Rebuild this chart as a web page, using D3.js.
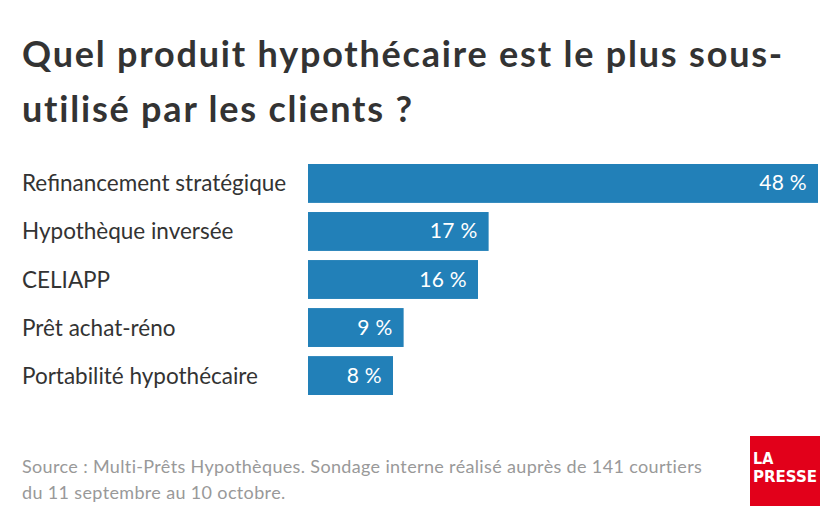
<!DOCTYPE html>
<html><head><meta charset="utf-8">
<script src="https://cdn.jsdelivr.net/npm/d3@7"></script>
<style>body{margin:0;background:#fff}svg{display:block}</style>
</head><body>
<script>
const categories = ["Refinancement stratégique","Hypothèque inversée","CELIAPP","Prêt achat-réno","Portabilité hypothécaire"];
const values = [48,17,16,9,8];
const titleLines = ["Quel produit hypothécaire est le plus sous-","utilisé par les clients ?"];
const sourceLines = ["Source : Multi-Prêts Hypothèques. Sondage interne réalisé auprès de 141 courtiers","du 11 septembre au 10 octobre."];

const W=840,H=526;
const svg=d3.select("body").append("svg").attr("width",W).attr("height",H);
const font="Lato, 'Open Sans', sans-serif";

svg.selectAll("text.title").data(titleLines).join("text")
  .attr("class","title")
  .attr("x",22).attr("y",(d,i)=>67+i*55)
  .attr("font-family",font).attr("font-weight",700).attr("font-size",36)
  .attr("letter-spacing",1.8)
  .attr("fill","#333").text(d=>d);

const x=d3.scaleLinear().domain([0,48]).range([308,818]);
const y=d3.scaleBand().domain(categories).range([164,395]).paddingInner(0.19).paddingOuter(0);

const g=svg.append("g");
g.selectAll("rect").data(values).join("rect")
  .attr("x",x(0)).attr("y",(d,i)=>y(categories[i]))
  .attr("width",d=>x(d)-x(0)).attr("height",y.bandwidth())
  .attr("fill","#2280b8");
g.selectAll("text.cat").data(categories).join("text")
  .attr("class","cat")
  .attr("x",22).attr("y",d=>y(d)+y.bandwidth()/2+8)
  .attr("font-family",font).attr("font-size",22.5).attr("fill","#333").text(d=>d);
g.selectAll("text.val").data(values).join("text")
  .attr("class","val")
  .attr("x",d=>x(d)-11).attr("y",(d,i)=>y(categories[i])+y.bandwidth()/2+7)
  .attr("text-anchor","end").attr("font-family",font).attr("font-size",21)
  .attr("letter-spacing",0.3)
  .attr("fill","#fff").text(d=>d+" %");

svg.selectAll("text.src").data(sourceLines).join("text")
  .attr("class","src")
  .attr("x",22).attr("y",(d,i)=>473+i*26)
  .attr("font-family",font).attr("font-size",18).attr("letter-spacing",0.35)
  .attr("fill","#999").text(d=>d);

const logo=svg.append("g");
const lf="'DejaVu Sans Condensed', 'Liberation Sans Narrow', sans-serif";
logo.append("rect").attr("x",750).attr("y",436).attr("width",70).attr("height",70).attr("fill","#e2001a");
logo.append("text").attr("x",753).attr("y",464).attr("font-family",lf)
  .attr("font-weight",700).attr("font-size",16).attr("fill","#fff").text("LA");
logo.append("text").attr("x",753).attr("y",482).attr("font-family",lf)
  .attr("font-weight",700).attr("font-size",16).attr("fill","#fff").attr("textLength",64).attr("lengthAdjust","spacingAndGlyphs").text("PRESSE");
</script>
</body></html>
